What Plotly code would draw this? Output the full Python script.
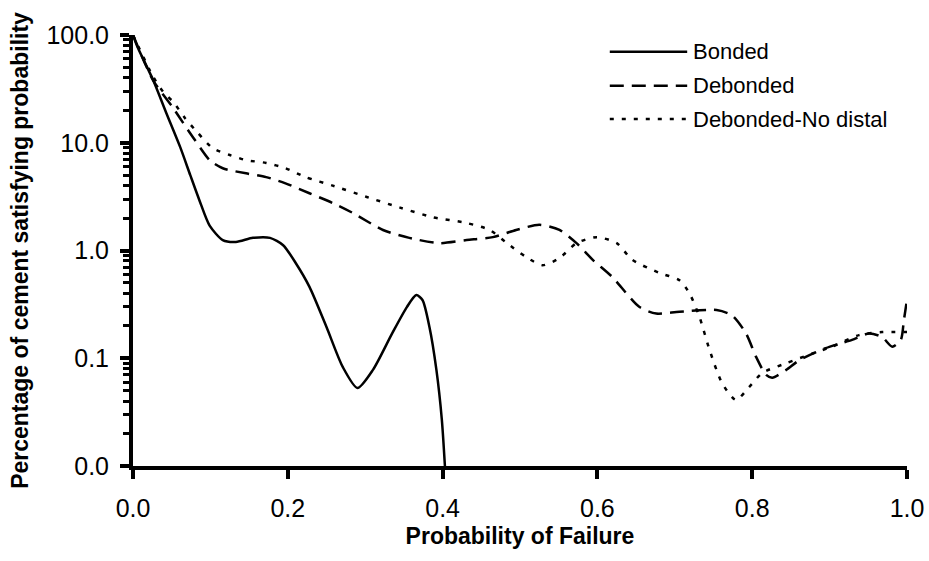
import plotly.graph_objects as go

# ---------------- data ----------------
bonded_x = [0.0, 0.006, 0.026, 0.043, 0.061, 0.074, 0.086, 0.099, 0.116, 0.133, 0.155,
            0.177, 0.194, 0.21, 0.228, 0.25, 0.271, 0.29, 0.31, 0.335, 0.354, 0.366,
            0.374, 0.383, 0.392, 0.399, 0.403]
bonded_y = [100, 77, 38.2, 18.9, 9.1, 5.0, 2.9, 1.7, 1.25, 1.2, 1.31,
            1.31, 1.12, 0.77, 0.46, 0.195, 0.083, 0.053, 0.078, 0.171, 0.30, 0.386,
            0.347, 0.195, 0.078, 0.027, 0.01]

debonded_x = [0.0, 0.026, 0.052, 0.065, 0.08, 0.099, 0.116, 0.146, 0.172, 0.197, 0.228,
              0.258, 0.284, 0.323, 0.357, 0.396, 0.431, 0.465, 0.495, 0.525, 0.551,
              0.573, 0.594, 0.619, 0.654, 0.676, 0.706, 0.754, 0.774, 0.792, 0.805,
              0.818, 0.826, 0.844, 0.861, 0.895, 0.929, 0.951, 0.968, 0.981, 0.992,
              0.996, 1.0]
debonded_y = [100, 38, 21, 15.2, 10.6, 6.9, 5.8, 5.2, 4.8, 4.2, 3.4,
              2.76, 2.23, 1.55, 1.31, 1.17, 1.25, 1.33, 1.55, 1.73, 1.55,
              1.17, 0.82, 0.57, 0.30, 0.26, 0.27, 0.28, 0.25, 0.17, 0.103,
              0.07, 0.066, 0.078, 0.096, 0.124, 0.148, 0.17, 0.157, 0.128, 0.148,
              0.226, 0.35]

nodistal_x = [0.0, 0.026, 0.039, 0.052, 0.067, 0.084, 0.103, 0.125, 0.146, 0.172, 0.197,
              0.223, 0.258, 0.302, 0.345, 0.387, 0.431, 0.461, 0.483, 0.508, 0.529,
              0.551, 0.573, 0.599, 0.625, 0.645, 0.68, 0.706, 0.719, 0.732, 0.745,
              0.761, 0.779, 0.796, 0.813, 0.844, 0.877, 0.903, 0.938, 0.968, 1.0]
nodistal_y = [100, 41, 29.6, 23.9, 17, 12.3, 8.9, 7.7, 6.9, 6.5, 5.8,
              4.8, 4.0, 3.14, 2.5, 2.04, 1.8, 1.55, 1.17, 0.87, 0.73,
              0.85, 1.17, 1.33, 1.17, 0.82, 0.62, 0.53, 0.40, 0.24, 0.119,
              0.059, 0.041, 0.054, 0.073, 0.090, 0.11, 0.128, 0.164, 0.175, 0.175]

series_names = ["Bonded", "Debonded", "Debonded-No distal"]
series_dash = ["solid", "14px,8px", "4px,8px"]

y_tickvals = [0.01, 0.1, 1, 10, 100]
y_ticktext = ["0.0", "0.1", "1.0", "10.0", "100.0"]
x_tickvals = [0.0, 0.2, 0.4, 0.6, 0.8, 1.0]
y_minor = [m * 10 ** e for e in range(-2, 2) for m in range(2, 10)]

FONT = "Liberation Sans, Arial, Helvetica, sans-serif"

fig = go.Figure()
for xs, ys, name, dash in zip([bonded_x, debonded_x, nodistal_x],
                              [bonded_y, debonded_y, nodistal_y],
                              series_names, series_dash):
    fig.add_trace(go.Scatter(
        x=xs, y=ys, mode="lines", name=name, showlegend=False,
        line=dict(color="black", width=2.5, dash=dash, shape="spline", smoothing=0.7),
    ))

# custom legend (long sample lines like the reference)
leg_y = [0.961, 0.882, 0.805]
for name, dash, ly in zip(series_names, series_dash, leg_y):
    fig.add_shape(type="line", xref="paper", yref="paper",
                  x0=0.616, x1=0.716, y0=ly, y1=ly,
                  line=dict(color="black", width=2.5, dash=dash))
    fig.add_annotation(xref="paper", yref="paper", x=0.721, y=ly, text=name,
                       showarrow=False, xanchor="left", yanchor="middle",
                       font=dict(family=FONT, size=22, color="black"))

fig.update_layout(
    width=929, height=561,
    margin=dict(l=133, r=22, t=35, b=95),
    paper_bgcolor="white", plot_bgcolor="white",
    font=dict(family=FONT, color="black"),
)
fig.update_xaxes(
    range=[0, 1], tickvals=x_tickvals, tickformat=".1f",
    showgrid=False, zeroline=False, automargin=False,
    showline=True, linecolor="black", linewidth=4,
    ticks="outside", ticklen=9, tickwidth=4, tickcolor="black",
    tickfont=dict(family=FONT, size=25, color="black"),
    ticklabelstandoff=8,
    title=dict(text="<b>Probability of Failure</b>", standoff=8,
               font=dict(family=FONT, size=23, color="black")),
)
fig.update_yaxes(
    type="log", range=[-2, 2], tickvals=y_tickvals, ticktext=y_ticktext,
    showgrid=False, zeroline=False, automargin=False,
    showline=True, linecolor="black", linewidth=4,
    ticks="outside", ticklen=9, tickwidth=4, tickcolor="black",
    tickfont=dict(family=FONT, size=25, color="black"),
    ticklabelstandoff=6,
    minor=dict(tickvals=y_minor, ticks="outside", ticklen=6, tickwidth=3,
               tickcolor="black", showgrid=False),
    title=dict(text="<b>Percentage of cement satisfying probability</b>", standoff=12,
               font=dict(family=FONT, size=23, color="black")),
)

fig.write_html("out.html")
